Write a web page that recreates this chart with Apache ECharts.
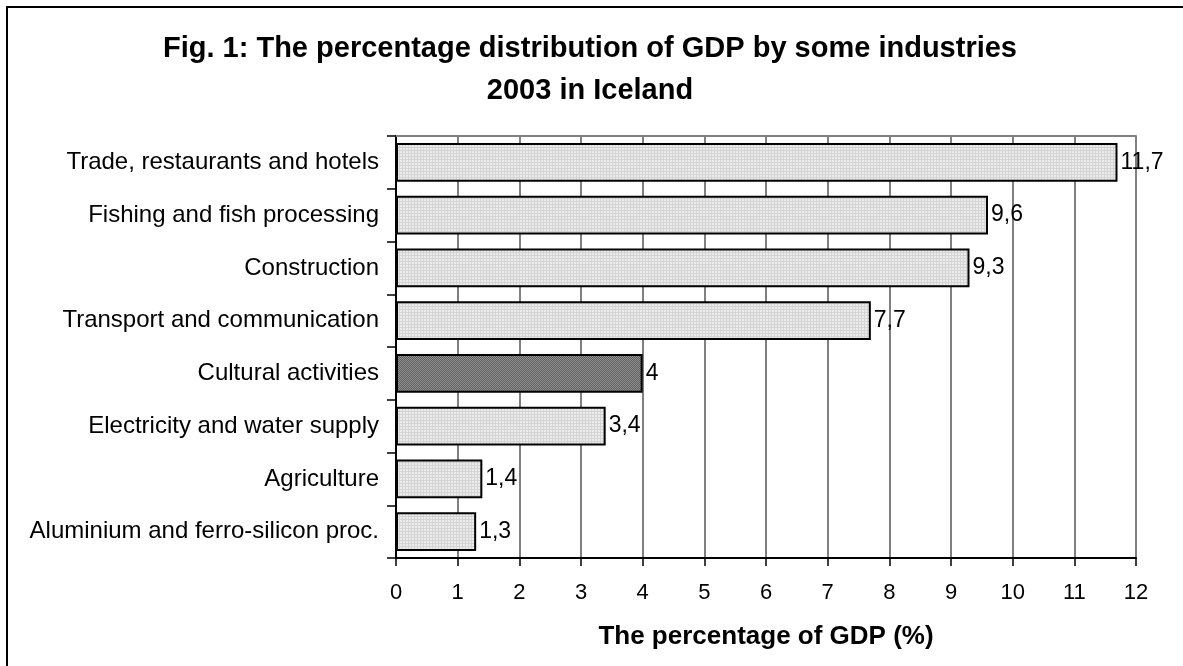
<!DOCTYPE html>
<html>
<head>
<meta charset="utf-8">
<title>GDP by industries 2003, Iceland</title>
<script src="https://cdn.jsdelivr.net/npm/echarts@6/dist/echarts.min.js"></script>
<style>
  html, body { margin: 0; padding: 0; background: #fff; }
  #chart { width: 1183px; height: 666px; }
</style>
</head>
<body>
<div id="chart"></div>
<script>
// Industries, top to bottom
const categories = [
  'Trade, restaurants and hotels',
  'Fishing and fish processing',
  'Construction',
  'Transport and communication',
  'Cultural activities',
  'Electricity and water supply',
  'Agriculture',
  'Aluminium and ferro-silicon proc.'
];
// Share of GDP, %
const values = [11.7, 9.6, 9.3, 7.7, 4, 3.4, 1.4, 1.3];
// Industry drawn with the dark fill
const highlighted = 'Cultural activities';
const xTicks = { min: 0, max: 12, interval: 1 };

// Small repeating tiles for the bar textures
function lightTile() {
  const c = document.createElement('canvas');
  c.width = 3; c.height = 3;
  const g = c.getContext('2d');
  g.fillStyle = '#ebebeb';
  g.fillRect(0, 0, 3, 3);
  g.fillStyle = '#d4d4d4';
  g.fillRect(0, 0, 3, 1);
  g.fillRect(0, 0, 1, 3);
  return c;
}
function darkTile() {
  const c = document.createElement('canvas');
  c.width = 4; c.height = 4;
  const g = c.getContext('2d');
  g.fillStyle = '#909090';
  g.fillRect(0, 0, 4, 4);
  g.fillStyle = '#606060';
  for (let i = 0; i < 4; i++) {
    g.fillRect((i + 3) % 4, i, 1, 1);
    g.fillRect((i + 1) % 4, i, 1, 1);
  }
  return c;
}
const lightFill = { image: lightTile(), repeat: 'repeat' };
const darkFill = { image: darkTile(), repeat: 'repeat' };

const barData = values.map((v, i) => ({
  value: v,
  itemStyle: { color: categories[i] === highlighted ? darkFill : lightFill }
}));

const FONT = "'Liberation Sans', Arial, sans-serif";

const chart = echarts.init(document.getElementById('chart'), null, { renderer: 'canvas' });
chart.setOption({
  backgroundColor: '#ffffff',
  animation: false,
  title: {
    text: 'Fig. 1: The percentage distribution of GDP by some industries\n2003 in Iceland',
    left: 585,
    textAlign: 'center',
    top: 23,
    textStyle: {
      fontFamily: FONT,
      fontWeight: 'bold',
      fontSize: 29,
      lineHeight: 42,
      color: '#000'
    }
  },
  graphic: [{
    type: 'rect',
    shape: { x: 7, y: 7, width: 1220, height: 700 },
    style: { fill: 'none', stroke: '#000', lineWidth: 2 },
    silent: true
  }],
  grid: { left: 396, right: 47, top: 136, bottom: 108, containLabel: false },
  xAxis: [{
    type: 'value',
    position: 'bottom',
    min: xTicks.min,
    max: xTicks.max,
    interval: xTicks.interval,
    name: 'The percentage of GDP (%)',
    nameLocation: 'middle',
    nameGap: 66,
    nameTextStyle: { fontFamily: FONT, fontWeight: 'bold', fontSize: 26, color: '#000' },
    axisLine: { show: true, lineStyle: { color: '#000', width: 2 } },
    axisTick: { show: true, length: 8, lineStyle: { color: '#000', width: 1.5 } },
    axisLabel: { fontFamily: FONT, fontSize: 22, color: '#000', margin: 24 },
    splitLine: { show: true, lineStyle: { color: '#808080', width: 2 } }
  }, {
    type: 'value',
    position: 'top',
    min: xTicks.min,
    max: xTicks.max,
    interval: xTicks.interval,
    axisLine: { show: true, lineStyle: { color: '#808080', width: 2 } },
    axisTick: { show: false },
    axisLabel: { show: false },
    splitLine: { show: false }
  }],
  yAxis: {
    type: 'category',
    inverse: true,
    data: categories,
    axisLine: { show: true, lineStyle: { color: '#000', width: 2 } },
    axisTick: { show: true, length: 9, alignWithLabel: false, lineStyle: { color: '#000', width: 1.5 } },
    axisLabel: { fontFamily: FONT, fontSize: 24, color: '#000', margin: 17 },
    splitLine: { show: false }
  },
  series: [{
    type: 'bar',
    xAxisIndex: 0,
    data: barData,
    barCategoryGap: '27%',
    itemStyle: { borderColor: '#000', borderWidth: 2 },
    label: {
      show: true,
      position: 'right',
      distance: 3,
      fontFamily: FONT,
      fontSize: 23,
      color: '#000',
      formatter: p => String(p.value).replace('.', ',')
    }
  }]
});
</script>
</body>
</html>
